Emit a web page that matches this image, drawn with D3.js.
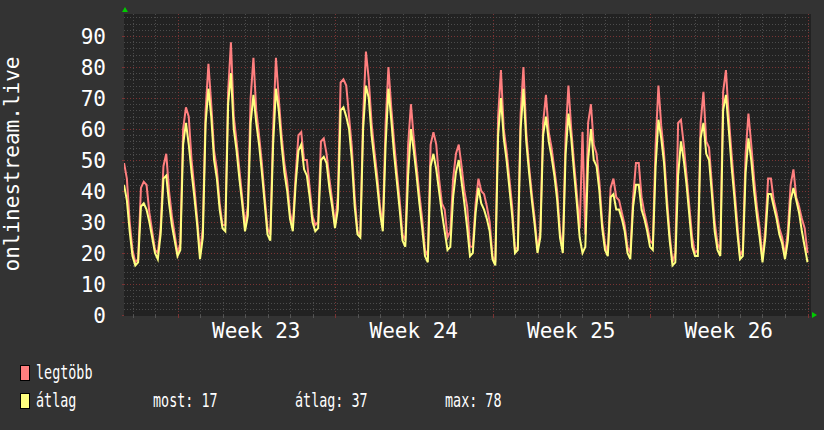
<!DOCTYPE html>
<html>
<head>
<meta charset="utf-8">
<script src="https://cdn.jsdelivr.net/npm/d3@7"></script>
<style>
body { margin: 0; background: #333333; }
svg { display: block; }
text { fill: #ffffff; font-family: "DejaVu Sans Mono", monospace; }
</style>
</head>
<body>
<svg width="824" height="430"></svg>
<script>
// samples every 3 hours, from 2023-06-02 15:00 UTC to 2023-07-03 00:00 UTC
let sampleStart = '2023-06-02T15:00';
let stepHours = 3;

// legtöbb (max)
let maxValues = [
	49, 44, 30,
	21, 17, 18, 41, 43, 42, 33, 27,
	21, 20, 28, 48, 52, 40, 32, 26,
	20, 23, 60, 67, 64, 50, 41, 31,
	20, 28, 66, 81, 68, 53, 47, 36,
	29, 29, 72, 88, 64, 56, 47, 38,
	29, 35, 70, 83, 66, 58, 49, 38,
	28, 26, 60, 83, 70, 58, 49, 43,
	33, 29, 45, 58, 59, 50, 50, 41,
	32, 29, 30, 56, 57, 52, 44, 37,
	29, 38, 75, 76, 74, 64, 54, 38,
	27, 26, 64, 85, 76, 62, 53, 45,
	35, 29, 62, 80, 67, 56, 46, 37,
	26, 24, 55, 68, 57, 48, 39, 31,
	21, 19, 55, 59, 55, 44, 36, 34,
	25, 27, 44, 52, 55, 48, 40, 35,
	22, 22, 36, 44, 40, 39, 35, 30,
	19, 17, 64, 79, 60, 53, 44, 35,
	21, 22, 65, 80, 59, 48, 39, 31,
	21, 27, 62, 71, 59, 54, 47, 40,
	27, 21, 58, 74, 60, 49, 39, 28,
	59, 26, 62, 68, 55, 52, 43, 30,
	23, 20, 41, 44, 38, 37, 33, 29,
	22, 20, 38, 49, 49, 38, 33, 29,
	24, 23, 55, 74, 61, 52, 38, 26,
	17, 20, 62, 63, 55, 45, 35, 25,
	20, 21, 62, 72, 56, 54, 42, 30,
	23, 21, 72, 79, 64, 52, 41, 30,
	19, 21, 52, 65, 55, 44, 35, 28,
	18, 28, 44, 44, 37, 33, 28, 25,
	19, 27, 42, 47, 38, 35, 31, 28,
	20
];

// átlag (average)
let avgValues = [
	42, 37, 27,
	19, 16, 17, 35, 36, 34, 30, 25,
	20, 18, 26, 44, 45, 36, 29, 24,
	19, 21, 55, 62, 55, 46, 38, 29,
	18, 25, 62, 73, 64, 50, 44, 34,
	28, 27, 68, 78, 60, 53, 44, 36,
	27, 32, 62, 71, 62, 55, 46, 36,
	26, 24, 55, 73, 66, 55, 46, 40,
	31, 27, 42, 53, 55, 47, 45, 38,
	30, 27, 28, 50, 51, 49, 41, 35,
	28, 34, 66, 67, 64, 60, 50, 35,
	26, 25, 60, 74, 70, 58, 50, 42,
	33, 27, 55, 73, 63, 52, 43, 34,
	24, 22, 45, 60, 53, 45, 36, 28,
	19, 17, 48, 52, 47, 40, 33, 27,
	21, 22, 38, 46, 50, 43, 36, 28,
	19, 20, 33, 41, 36, 34, 31, 27,
	18, 16, 58, 70, 57, 50, 41, 32,
	20, 21, 60, 73, 56, 46, 37, 29,
	20, 25, 58, 64, 56, 51, 45, 37,
	25, 20, 52, 65, 57, 46, 36, 25,
	20, 22, 50, 60, 50, 48, 40, 28,
	21, 19, 38, 39, 34, 34, 31, 27,
	20, 18, 35, 42, 42, 34, 31, 27,
	22, 21, 48, 63, 57, 49, 35, 24,
	16, 17, 45, 56, 50, 42, 32, 22,
	19, 19, 57, 62, 52, 50, 39, 27,
	21, 19, 66, 71, 60, 48, 38, 27,
	18, 19, 46, 57, 50, 40, 32, 25,
	17, 25, 39, 39, 35, 31, 26, 23,
	18, 24, 37, 41, 37, 33, 27, 22,
	17
];

let yTicks = [0, 10, 20, 30, 40, 50, 60, 70, 80, 90];
let seriesNames = ['legtöbb', 'átlag'];
let statLabels = ['most: 17', 'átlag: 37', 'max: 78'];
let axisTitle = 'onlinestream.live';

let parse = d3.utcParse('%Y-%m-%dT%H:%M');
let t0 = parse('2023-06-02T14:56');
let t1 = parse('2023-07-03T01:36');
let first = parse(sampleStart);

let plotLeft = 124, plotRight = 809, plotTop = 14, plotBottom = 315;

let svg = d3.select('svg');
let xScale = d3.scaleUtc().domain([t0, t1]).range([plotLeft, plotRight]);
let yScale = d3.scaleLinear().domain([0, 97.1]).range([plotBottom, plotTop]);

let times = avgValues.map(function(d, i) {
	return d3.utcHour.offset(first, i * stepHours);
});

// background
svg.append('rect').attr('width', 824).attr('height', 430).attr('fill', '#333333');
svg.append('rect')
	.attr('x', plotLeft).attr('y', plotTop)
	.attr('width', plotRight - plotLeft + 2).attr('height', plotBottom - plotTop + 1)
	.attr('fill', '#222222');

// grid
let grid = svg.append('g').attr('class', 'grid').attr('stroke-dasharray', '1,2').attr('stroke-width', 1);
let minorY = d3.range(0, 97, 2).filter(function(v) { return v % 10 != 0; });
grid.selectAll('.hminor').data(minorY).enter().append('line')
	.attr('x1', plotLeft).attr('x2', plotRight + 2)
	.attr('y1', function(d) { return Math.round(yScale(d)) + 0.5; })
	.attr('y2', function(d) { return Math.round(yScale(d)) + 0.5; })
	.attr('stroke', '#4c4c4c');
let days = d3.utcDay.range(t0, t1).filter(function(d) { return d.getUTCDay() != 1; });
grid.selectAll('.vminor').data(days).enter().append('line')
	.attr('y1', plotTop).attr('y2', plotBottom)
	.attr('x1', function(d) { return Math.round(xScale(d)) + 0.5; })
	.attr('x2', function(d) { return Math.round(xScale(d)) + 0.5; })
	.attr('stroke', '#4c4c4c');
grid.selectAll('.hmajor').data(yTicks.slice(1)).enter().append('line')
	.attr('x1', plotLeft).attr('x2', plotRight + 2)
	.attr('y1', function(d) { return Math.round(yScale(d)) + 0.5; })
	.attr('y2', function(d) { return Math.round(yScale(d)) + 0.5; })
	.attr('stroke', '#7a3434');
let weeks = d3.utcMonday.range(t0, d3.utcHour.offset(t1, 1));
grid.selectAll('.vmajor').data(weeks).enter().append('line')
	.attr('y1', plotTop).attr('y2', plotBottom)
	.attr('x1', function(d) { return Math.round(xScale(d)) + 0.5; })
	.attr('x2', function(d) { return Math.round(xScale(d)) + 0.5; })
	.attr('stroke', '#7a3434');

// tick marks under the plot
svg.append('g').selectAll('line').data(days).enter().append('line')
	.attr('x1', function(d) { return Math.round(xScale(d)) + 0.5; })
	.attr('x2', function(d) { return Math.round(xScale(d)) + 0.5; })
	.attr('y1', plotBottom).attr('y2', plotBottom + 3)
	.attr('stroke', '#555555');
svg.append('g').selectAll('line').data(weeks).enter().append('line')
	.attr('x1', function(d) { return Math.round(xScale(d)) + 0.5; })
	.attr('x2', function(d) { return Math.round(xScale(d)) + 0.5; })
	.attr('y1', plotBottom).attr('y2', plotBottom + 3)
	.attr('stroke', '#7a3434');

// y axis labels
let yAxis = svg.append('g')
	.attr('transform', 'translate(' + plotLeft + ',0)')
	.call(d3.axisLeft(yScale).tickValues(yTicks).tickSize(2).tickPadding(16));
yAxis.select('.domain').remove();
yAxis.selectAll('line').attr('stroke', '#7a3434');
yAxis.selectAll('text')
	.attr('fill', '#ffffff')
	.attr('font-family', '"DejaVu Sans Mono", monospace')
	.attr('font-size', 21)
	.attr('dy', '0.36em');

// week labels
let weekLabels = d3.utcMonday.range(d3.utcMonday.floor(t0), t1)
	.map(function(d) { return d3.utcHour.offset(d, 84); })
	.filter(function(d) { return d > t0 && d < t1; });
svg.append('g').selectAll('text').data(weekLabels).enter().append('text')
	.attr('x', function(d) { return xScale(d); })
	.attr('y', 338)
	.attr('text-anchor', 'middle')
	.attr('font-size', 21)
	.text(function(d) { return 'Week ' + (+d3.utcFormat('%V')(d)); });

// y axis title
svg.append('text')
	.attr('transform', 'translate(19,164) rotate(-90)')
	.attr('text-anchor', 'middle')
	.attr('font-size', 21)
	.text(axisTitle);

// lines
svg.append('clipPath').attr('id', 'plot')
	.append('rect').attr('x', plotLeft).attr('y', plotTop).attr('width', plotRight - plotLeft + 1).attr('height', plotBottom - plotTop);

let line = d3.line()
	.x(function(d, i) { return xScale(times[i]); })
	.y(function(d) { return yScale(d); });

let colors = ['#ff7f7f', '#ffff7f'];
[maxValues, avgValues].forEach(function(values, k) {
	svg.append('path')
		.attr('clip-path', 'url(#plot)')
		.attr('d', line(values))
		.attr('fill', 'none')
		.attr('stroke', colors[k])
		.attr('stroke-width', 2)
		.attr('stroke-linejoin', 'miter');
});

// arrows
svg.append('path').attr('d', 'M122,12 L128,12 L125,7 Z').attr('fill', '#00cc00');
svg.append('path').attr('d', 'M812,312 L812,318 L817,315 Z').attr('fill', '#00cc00');

// legend
let legendY = [373, 401];
seriesNames.forEach(function(name, k) {
	svg.append('rect')
		.attr('x', 20.5).attr('y', legendY[k] - 7.5)
		.attr('width', 9).attr('height', 15)
		.attr('fill', colors[k]).attr('stroke', '#000000');
	svg.append('text')
		.attr('transform', 'translate(36,' + (legendY[k] + 6) + ') scale(0.67,1)')
		.attr('font-size', 20)
		.text(name);
});
let statX = [153, 295, 445];
statLabels.forEach(function(s, k) {
	svg.append('text')
		.attr('transform', 'translate(' + statX[k] + ',' + (legendY[1] + 6) + ') scale(0.67,1)')
		.attr('font-size', 20)
		.text(s);
});
</script>
</body>
</html>
